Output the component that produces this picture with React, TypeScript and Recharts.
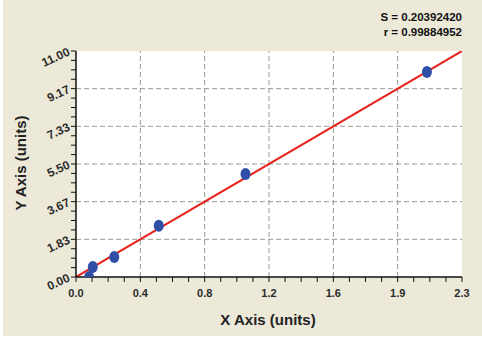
import React from "react";
import { ComposedChart, Scatter, Line, XAxis, YAxis, ReferenceLine } from "recharts";

// standard points
const xValues = [0.078, 0.1, 0.228, 0.493, 1.01, 2.091];
const yValues = [0.0, 0.49, 0.97, 2.5, 5.01, 9.98];

// fitted line end points
const fitX = [0, 2.3];
const fitY = [0, 11];

const xMax = 2.3;
const yMax = 11;
const xLabels = ["0.0", "0.4", "0.8", "1.2", "1.6", "1.9", "2.3"];
const yLabels = ["0.00", "1.83", "3.67", "5.50", "7.33", "9.17", "11.00"];
const statS = "S = 0.20392420";
const statR = "r = 0.99884952";

const points = xValues.map((x, i) => ({ x, y: yValues[i] }));
const fitLine = fitX.map((x, i) => ({ x, y: fitY[i] }));

// 6 major divisions, 4 sub-ticks each
const xTicks = Array.from({ length: 25 }, (_, i) => (i * xMax) / 24);
const yTicks = Array.from({ length: 25 }, (_, i) => (i * yMax) / 24);
const xMajor = xTicks.filter((_, i) => i % 4 === 0);
const yMajor = yTicks.filter((_, i) => i % 4 === 0);

const font = "'Liberation Sans', Arial, sans-serif";
const tickColor = "#2b2b2b";

const YTick = (props: any) => {
  const { x, y } = props;
  const index = props.payload?.index ?? props.index;
  if (index % 4 !== 0) return <g />;
  return (
    <text
      x={x}
      y={y}
      dy={4}
      textAnchor="end"
      transform={`rotate(-25 ${x} ${y})`}
      fontSize={12}
      fontWeight="bold"
      fontFamily={font}
      fill={tickColor}
    >
      {yLabels[index / 4]}
    </text>
  );
};

const Dot = (p: any) => <ellipse cx={p.cx} cy={p.cy} rx={5} ry={6} fill="#2f4fa6" />;

export default function App() {
  return (
    <div style={{ position: "absolute", left: 0, top: 0, width: 482, height: 346, background: "#fff", fontFamily: font }}>
      <div style={{ position: "absolute", left: 3, top: 0, width: 479, height: 336, background: "#ECE9D8" }} />
      <div
        style={{
          position: "absolute",
          right: 20,
          top: 10,
          textAlign: "right",
          fontWeight: "bold",
          fontSize: 11.5,
          lineHeight: "14.5px",
          color: "#111",
        }}
      >
        {statS}
        <br />
        {statR}
      </div>
      <div
        style={{
          position: "absolute",
          left: 168,
          top: 311,
          width: 200,
          textAlign: "center",
          fontWeight: "bold",
          fontSize: 15,
          lineHeight: "18px",
          color: "#222",
        }}
      >
        X Axis (units)
      </div>
      <div
        style={{
          position: "absolute",
          left: -79,
          top: 154,
          width: 200,
          height: 18,
          textAlign: "center",
          fontWeight: "bold",
          fontSize: 15,
          lineHeight: "18px",
          color: "#222",
          transform: "rotate(-90deg)",
        }}
      >
        Y Axis (units)
      </div>
      <div style={{ position: "absolute", left: 0, top: 0 }}>
        <ComposedChart width={482} height={346} margin={{ top: 51, right: 20, left: 36, bottom: 39 }}>
          <rect x={76} y={51} width={386} height={226} fill="#fff" />
          <XAxis
            dataKey="x"
            type="number"
            domain={[0, xMax]}
            ticks={xTicks}
            interval={0}
            height={30}
            tickSize={5}
            tickMargin={7}
            tickFormatter={(v: number, i: number) => (i % 4 === 0 ? xLabels[i / 4] : "")}
            tick={{ fontSize: 11, fontWeight: "bold", fill: tickColor, fontFamily: font }}
            axisLine={{ stroke: "#111", strokeWidth: 1.5 }}
            tickLine={{ stroke: "#111" }}
            allowDataOverflow
          />
          <XAxis
            xAxisId="top"
            orientation="top"
            type="number"
            domain={[0, xMax]}
            ticks={xMajor}
            interval={0}
            mirror
            height={0}
            tickSize={4}
            tick={() => <g />}
            axisLine={{ stroke: "#111", strokeWidth: 1.5 }}
            tickLine={{ stroke: "#111" }}
          />
          <YAxis
            dataKey="y"
            type="number"
            domain={[0, yMax]}
            ticks={yTicks}
            interval={0}
            width={40}
            tickSize={5}
            tickMargin={2}
            tick={<YTick />}
            axisLine={{ stroke: "#111", strokeWidth: 1.5 }}
            tickLine={{ stroke: "#111" }}
            allowDataOverflow
          />
          <YAxis
            yAxisId="right"
            orientation="right"
            type="number"
            domain={[0, yMax]}
            mirror
            width={0}
            tick={false}
            tickLine={false}
            axisLine={{ stroke: "#111", strokeWidth: 1.5 }}
          />
          {xMajor.slice(1, -1).map((v) => (
            <ReferenceLine key={"x" + v} x={v} stroke="#9a9a90" strokeDasharray="5 3" />
          ))}
          {yMajor.slice(1, -1).map((v) => (
            <ReferenceLine key={"y" + v} y={v} stroke="#9a9a90" strokeDasharray="5 3" />
          ))}
          <Scatter data={points} dataKey="y" shape={<Dot />} isAnimationActive={false} />
          <Line
            data={fitLine}
            dataKey="y"
            type="linear"
            stroke="#e8231e"
            strokeWidth={2}
            dot={false}
            activeDot={false}
            isAnimationActive={false}
          />
        </ComposedChart>
      </div>
    </div>
  );
}
